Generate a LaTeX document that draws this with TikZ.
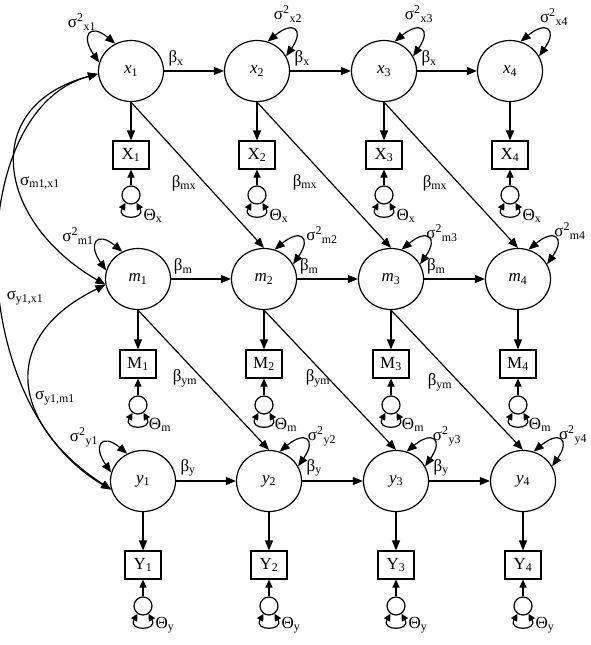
\documentclass[tikz,border=0pt]{standalone}
\usepackage{fontspec}
\setmainfont{Liberation Serif}
\usepackage{tikz}
\usetikzlibrary{positioning, arrows.meta, shapes.geometric}
\newcommand{\semfont}{\fontsize{17}{20}\selectfont}
\tikzset{
  latent/.style ={draw, ellipse, minimum width=65pt, minimum height=61pt,
                  inner sep=0pt, line width=1.2pt, font=\semfont},
  obs/.style    ={draw, rectangle, minimum width=36pt, minimum height=28pt,
                  inner sep=0pt, line width=1.2pt, font=\semfont},
  resid/.style  ={draw, circle, minimum size=18pt, inner sep=0pt, line width=1.2pt},
  flow/.style   ={-{Triangle[length=10pt, width=8pt]}, line width=1.2pt},
  flowsm/.style ={-{Triangle[length=8pt, width=7pt]}, line width=1.2pt},
  flowbi/.style ={{Triangle[length=10pt, width=8pt]}-{Triangle[length=10pt, width=8pt]}, line width=1.2pt},
  loopbi/.style ={{Triangle[length=7pt, width=7pt]}-{Triangle[length=7pt, width=7pt]}, line width=1.2pt},
  lbl/.style    ={font=\semfont, inner sep=0pt},
}

\begin{document}
\begin{tikzpicture}[x=1pt, y=1pt]
  \useasboundingbox (0,0) rectangle (591,-645);
  % latent variables
  \node[latent] (x1) at (131,-71) {\textit{x}\textsubscript{1}};
  \node[latent] (x2) at (257,-71) {\textit{x}\textsubscript{2}};
  \node[latent] (x3) at (384,-71) {\textit{x}\textsubscript{3}};
  \node[latent] (x4) at (510,-71) {\textit{x}\textsubscript{4}};
  \node[latent] (m1) at (138,-279) {\textit{m}\textsubscript{1}};
  \node[latent] (m2) at (264,-279) {\textit{m}\textsubscript{2}};
  \node[latent] (m3) at (391,-279) {\textit{m}\textsubscript{3}};
  \node[latent] (m4) at (518,-279) {\textit{m}\textsubscript{4}};
  \node[latent] (y1) at (143,-481) {\textit{y}\textsubscript{1}};
  \node[latent] (y2) at (269,-481) {\textit{y}\textsubscript{2}};
  \node[latent] (y3) at (396,-481) {\textit{y}\textsubscript{3}};
  \node[latent] (y4) at (523,-481) {\textit{y}\textsubscript{4}};
  % indicators
  \node[obs] (X1) at (131,-155) {X\textsubscript{1}};
  \node[obs] (X2) at (257,-155) {X\textsubscript{2}};
  \node[obs] (X3) at (384,-155) {X\textsubscript{3}};
  \node[obs] (X4) at (510,-155) {X\textsubscript{4}};
  \node[obs] (M1) at (138,-364) {M\textsubscript{1}};
  \node[obs] (M2) at (264,-364) {M\textsubscript{2}};
  \node[obs] (M3) at (391,-364) {M\textsubscript{3}};
  \node[obs] (M4) at (518,-364) {M\textsubscript{4}};
  \node[obs] (Y1) at (143,-565) {Y\textsubscript{1}};
  \node[obs] (Y2) at (269,-565) {Y\textsubscript{2}};
  \node[obs] (Y3) at (396,-565) {Y\textsubscript{3}};
  \node[obs] (Y4) at (523,-565) {Y\textsubscript{4}};
  % residuals
  \node[resid] (ex1) at (131,-195) {};
  \node[resid] (ex2) at (257,-195) {};
  \node[resid] (ex3) at (384,-195) {};
  \node[resid] (ex4) at (510,-195) {};
  \node[resid] (em1) at (138,-405) {};
  \node[resid] (em2) at (264,-405) {};
  \node[resid] (em3) at (391,-405) {};
  \node[resid] (em4) at (518,-405) {};
  \node[resid] (ey1) at (143,-606) {};
  \node[resid] (ey2) at (269,-606) {};
  \node[resid] (ey3) at (396,-606) {};
  \node[resid] (ey4) at (523,-606) {};

  % autoregressive paths
  \draw[flow] (x1) -- node[lbl, pos=0.2, above=4pt]{β\textsubscript{x}} (x2);
  \draw[flow] (x2) -- node[lbl, pos=0.2, above=4pt]{β\textsubscript{x}} (x3);
  \draw[flow] (x3) -- node[lbl, pos=0.2, above=4pt]{β\textsubscript{x}} (x4);
  \draw[flow] (m1) -- node[lbl, pos=0.2, above=4pt]{β\textsubscript{m}} (m2);
  \draw[flow] (m2) -- node[lbl, pos=0.2, above=4pt]{β\textsubscript{m}} (m3);
  \draw[flow] (m3) -- node[lbl, pos=0.2, above=4pt]{β\textsubscript{m}} (m4);
  \draw[flow] (y1) -- node[lbl, pos=0.2, above=4pt]{β\textsubscript{y}} (y2);
  \draw[flow] (y2) -- node[lbl, pos=0.2, above=4pt]{β\textsubscript{y}} (y3);
  \draw[flow] (y3) -- node[lbl, pos=0.2, above=4pt]{β\textsubscript{y}} (y4);
  % cross-lagged paths
  \draw[flow] (x1.south) -- (m2.north);
  \draw[flow] (x2.south) -- (m3.north);
  \draw[flow] (x3.south) -- (m4.north);
  \draw[flow] (m1.south) -- (y2.north);
  \draw[flow] (m2.south) -- (y3.north);
  \draw[flow] (m3.south) -- (y4.north);
  \node[lbl] at (184,-183) {β\textsubscript{mx}};
  \node[lbl] at (305,-182) {β\textsubscript{mx}};
  \node[lbl] at (435,-183) {β\textsubscript{mx}};
  \node[lbl] at (185,-378) {β\textsubscript{ym}};
  \node[lbl] at (318,-378) {β\textsubscript{ym}};
  \node[lbl] at (440,-382) {β\textsubscript{ym}};

  % loadings
  \draw[flow] (x1) -- (X1);
  \draw[flow] (x2) -- (X2);
  \draw[flow] (x3) -- (X3);
  \draw[flow] (x4) -- (X4);
  \draw[flow] (m1) -- (M1);
  \draw[flow] (m2) -- (M2);
  \draw[flow] (m3) -- (M3);
  \draw[flow] (m4) -- (M4);
  \draw[flow] (y1) -- (Y1);
  \draw[flow] (y2) -- (Y2);
  \draw[flow] (y3) -- (Y3);
  \draw[flow] (y4) -- (Y4);
  \draw[flowsm] (ex1) -- (X1);
  \draw[flowsm] (ex2) -- (X2);
  \draw[flowsm] (ex3) -- (X3);
  \draw[flowsm] (ex4) -- (X4);
  \draw[flowsm] (em1) -- (M1);
  \draw[flowsm] (em2) -- (M2);
  \draw[flowsm] (em3) -- (M3);
  \draw[flowsm] (em4) -- (M4);
  \draw[flowsm] (ey1) -- (Y1);
  \draw[flowsm] (ey2) -- (Y2);
  \draw[flowsm] (ey3) -- (Y3);
  \draw[flowsm] (ey4) -- (Y4);

  % residual variances
  \draw[loopbi] (ex1.235) .. controls +(240:20) and +(300:20) .. (ex1.305);
  \draw[loopbi] (ex2.235) .. controls +(240:20) and +(300:20) .. (ex2.305);
  \draw[loopbi] (ex3.235) .. controls +(240:20) and +(300:20) .. (ex3.305);
  \draw[loopbi] (ex4.235) .. controls +(240:20) and +(300:20) .. (ex4.305);
  \draw[loopbi] (em1.235) .. controls +(240:20) and +(300:20) .. (em1.305);
  \draw[loopbi] (em2.235) .. controls +(240:20) and +(300:20) .. (em2.305);
  \draw[loopbi] (em3.235) .. controls +(240:20) and +(300:20) .. (em3.305);
  \draw[loopbi] (em4.235) .. controls +(240:20) and +(300:20) .. (em4.305);
  \draw[loopbi] (ey1.235) .. controls +(240:20) and +(300:20) .. (ey1.305);
  \draw[loopbi] (ey2.235) .. controls +(240:20) and +(300:20) .. (ey2.305);
  \draw[loopbi] (ey3.235) .. controls +(240:20) and +(300:20) .. (ey3.305);
  \draw[loopbi] (ey4.235) .. controls +(240:20) and +(300:20) .. (ey4.305);
  \node[lbl] at (153,-216) {Θ\textsubscript{x}};
  \node[lbl] at (279,-216) {Θ\textsubscript{x}};
  \node[lbl] at (406,-216) {Θ\textsubscript{x}};
  \node[lbl] at (532,-216) {Θ\textsubscript{x}};
  \node[lbl] at (160,-425) {Θ\textsubscript{m}};
  \node[lbl] at (286,-425) {Θ\textsubscript{m}};
  \node[lbl] at (413,-425) {Θ\textsubscript{m}};
  \node[lbl] at (540,-425) {Θ\textsubscript{m}};
  \node[lbl] at (165,-625) {Θ\textsubscript{y}};
  \node[lbl] at (291,-625) {Θ\textsubscript{y}};
  \node[lbl] at (418,-625) {Θ\textsubscript{y}};
  \node[lbl] at (545,-625) {Θ\textsubscript{y}};

  % latent variances
  \draw[flowbi] (x1.120) .. controls +(140:33) and +(125:33) .. (x1.165);
  \draw[flowbi] (x2.70) .. controls +(40:33) and +(55:33) .. (x2.27);
  \draw[flowbi] (x3.70) .. controls +(40:33) and +(55:33) .. (x3.27);
  \draw[flowbi] (x4.70) .. controls +(40:33) and +(55:33) .. (x4.27);
  \draw[flowbi] (m1.120) .. controls +(140:33) and +(125:33) .. (m1.165);
  \draw[flowbi] (m2.70) .. controls +(40:33) and +(55:33) .. (m2.27);
  \draw[flowbi] (m3.70) .. controls +(40:33) and +(55:33) .. (m3.27);
  \draw[flowbi] (m4.70) .. controls +(40:33) and +(55:33) .. (m4.27);
  \draw[flowbi] (y1.120) .. controls +(140:33) and +(125:33) .. (y1.165);
  \draw[flowbi] (y2.70) .. controls +(40:33) and +(55:33) .. (y2.27);
  \draw[flowbi] (y3.70) .. controls +(40:33) and +(55:33) .. (y3.27);
  \draw[flowbi] (y4.70) .. controls +(40:33) and +(55:33) .. (y4.27);
  \node[lbl] at (82,-22)   {σ\textsuperscript{2}\textsubscript{x1}};
  \node[lbl] at (288,-14)  {σ\textsuperscript{2}\textsubscript{x2}};
  \node[lbl] at (419,-14)  {σ\textsuperscript{2}\textsubscript{x3}};
  \node[lbl] at (554,-17)  {σ\textsuperscript{2}\textsubscript{x4}};
  \node[lbl] at (78,-236)  {σ\textsuperscript{2}\textsubscript{m1}};
  \node[lbl] at (322,-235) {σ\textsuperscript{2}\textsubscript{m2}};
  \node[lbl] at (442,-233) {σ\textsuperscript{2}\textsubscript{m3}};
  \node[lbl] at (570,-231) {σ\textsuperscript{2}\textsubscript{m4}};
  \node[lbl] at (84,-437)  {σ\textsuperscript{2}\textsubscript{y1}};
  \node[lbl] at (322,-436) {σ\textsuperscript{2}\textsubscript{y2}};
  \node[lbl] at (447,-436) {σ\textsuperscript{2}\textsubscript{y3}};
  \node[lbl] at (573,-435) {σ\textsuperscript{2}\textsubscript{y4}};

  % covariances at time 1
  \draw[flowbi] (x1.185) .. controls +(195:125) and +(150:125) .. (m1.190);
  \draw[flowbi] (x1.185) .. controls +(195:140) and +(150:170) .. (y1.195);
  \draw[flowbi] (m1.190) .. controls +(206:120) and +(147:120) .. (y1.195);
  \node[lbl] at (40,-183)  {σ\textsubscript{m1,x1}};
  \node[lbl] at (25,-298)  {σ\textsubscript{y1,x1}};
  \node[lbl] at (55,-398)  {σ\textsubscript{y1,m1}};
\end{tikzpicture}
\end{document}
